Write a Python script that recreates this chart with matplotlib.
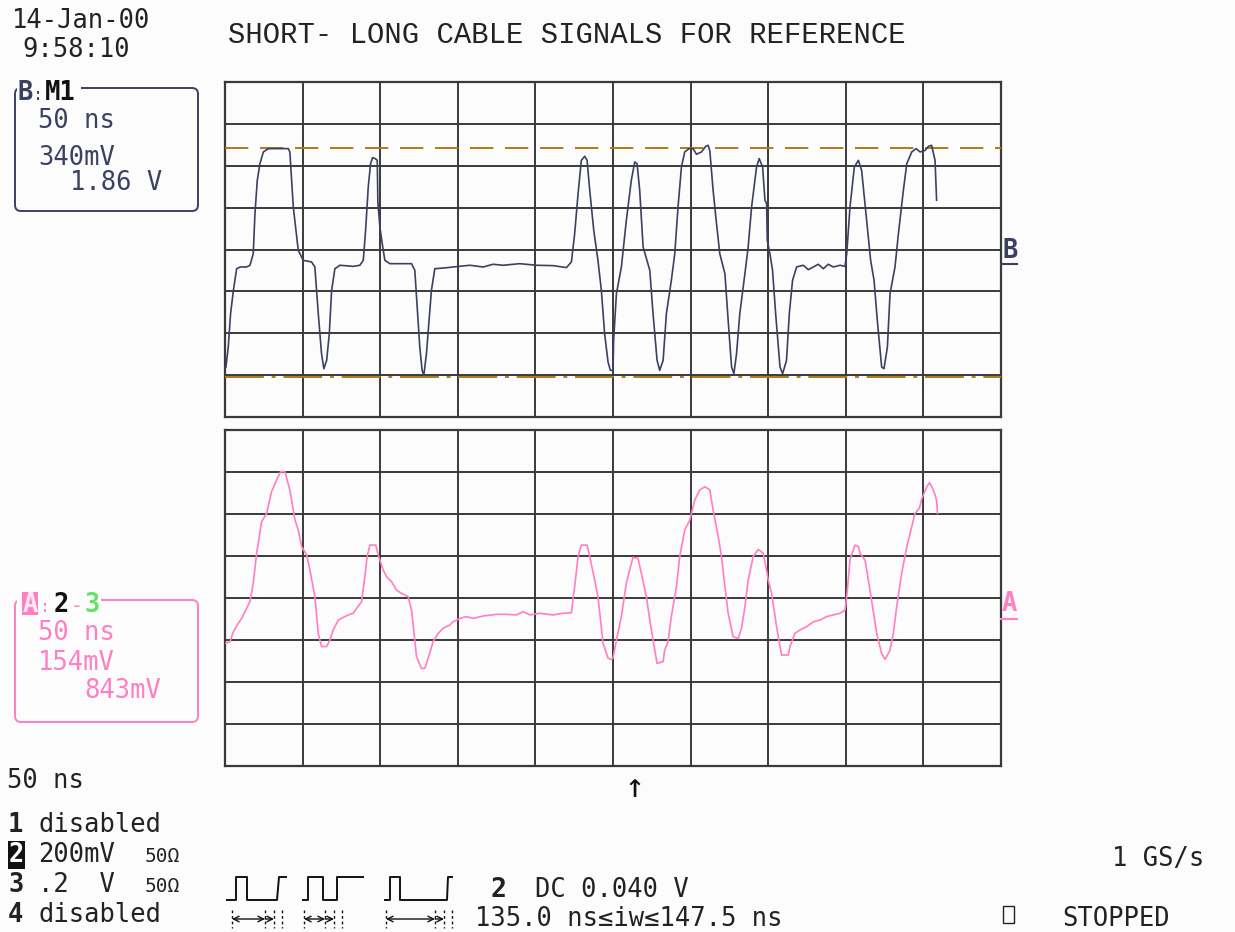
import numpy as np
import matplotlib.pyplot as plt
from matplotlib.patches import FancyBboxPatch, Rectangle

# time base and vertical scales (from the scope readout)
ns_div = 50
b_mv_div = 340
a_mv_div = 154

# trace B (M1): time in ns, amplitude in mV about screen centre
t_b = [0.6, 2.1, 3.6, 5.4, 7.5, 9.7, 13.9, 16.1, 18.2, 19.3, 20.8, 22.5, 24.7, 27.9,
       40.8, 41.8, 42.9, 44.0, 47.2, 50.4, 55.8, 57.9, 60.1, 62.2, 63.7, 65.5, 67.2,
       68.7, 70.8, 74.0, 82.6, 86.9, 89.1, 90.6, 92.3, 93.8, 95.1, 96.8, 98.1, 98.5,
       99.8, 101.3, 103.0, 106.2, 112.7, 120.2, 122.3, 123.8, 125.5, 127.0, 128.1,
       129.8, 131.5, 133.0, 135.2, 142.7, 147.0, 157.7, 166.3, 172.7, 179.2, 189.9,
       200.6, 211.4, 220.0, 223.2, 225.3, 227.5, 229.6, 231.8, 233.3, 235.0, 237.6,
       240.3, 242.5, 244.6, 246.8, 248.3, 250.0, 250.4, 252.2, 255.4, 258.6, 261.8,
       264.0, 265.5, 267.2, 269.4, 273.7, 275.8, 278.4, 280.1, 282.3, 284.4, 287.6,
       289.8, 291.9, 294.1, 296.2, 299.0, 301.6, 303.8, 307.0, 309.8, 311.3, 312.4,
       314.5, 316.7, 318.8, 322.1, 324.2, 326.4, 327.9, 329.6, 331.7, 335.0, 337.1,
       339.3, 342.5, 344.2, 346.4, 347.9, 349.0, 349.4, 351.1, 352.8, 354.8, 357.6,
       359.3, 361.8, 363.6, 365.7, 368.3, 372.6, 375.8, 379.1, 382.3, 385.5, 388.7,
       392.0, 396.3, 399.5, 400.6, 402.7, 405.5, 408.1, 410.2, 413.4, 416.0, 418.2,
       420.3, 423.1, 424.6, 426.8, 428.5, 431.7, 433.9, 437.1, 439.3, 442.5, 445.3,
       447.9, 451.1, 453.3, 455.3, 457.5, 458.5]
v_b = [-954, -792, -521, -332, -156, -142, -142, -128, -34, 291, 562, 697, 792, 819,
       819, 792, 562, 345, -7, -88, -101, -142, -521, -846, -968, -900, -683,
       -332, -156, -128, -137, -128, -88, 156, 508, 697, 746, 738, 724, 386,
       183, 48, -88, -115, -115, -115, -169, -467, -792, -981, -1022,
       -846, -575, -332, -156, -148, -142, -128, -142, -120, -128, -115,
       -128, -131, -147, -101, 129, 454, 724, 757, 724, 481, 156,
       -88, -332, -683, -913, -981, -981, -738, -359, -142, 237, 562,
       711, 697, 481, 21, -169, -521, -900, -981, -900, -521, -250,
       -34, 345, 670, 792, 819, 819, 773, 792, 838, 846, 800,
       481, 210, -34, -196, -575, -954, -1008, -846, -521, -196, 21,
       345, 670, 738, 670, 400, 372, 75, -34, -169, -521, -954,
       -1008, -900, -521, -250, -142, -128, -164, -142, -120, -156, -120,
       -142, -128, -137, -34, 345, 670, 724, 643, 237, -88, -250,
       -575, -954, -968, -792, -359, -142, 129, 481, 697, 792, 819,
       792, 805, 838, 846, 724, 400]

# trace A (2-3): time in ns, amplitude in mV about screen centre
t_a = [0.6, 3.2, 5.4, 8.6, 10.7, 12.9, 16.1, 18.2, 20.4, 23.6, 26.8, 30.0, 33.3, 35.8,
       38.6, 41.8, 45.1, 47.2, 49.4, 52.6, 54.7, 57.9, 60.1, 62.2, 65.5, 67.6, 69.7,
       73.0, 76.2, 79.4, 82.6, 84.8, 88.0, 90.1, 91.6, 93.4, 97.2, 98.7, 101.9, 104.1,
       107.3, 110.5, 113.7, 118.0, 120.2, 123.4, 126.6, 128.8, 130.9, 134.1, 137.3,
       140.6, 144.9, 147.0, 151.3, 155.6, 159.9, 166.3, 174.9, 181.3, 187.8, 192.1,
       196.4, 202.8, 211.4, 217.8, 223.2, 225.3, 227.5, 229.6, 233.3, 235.0, 238.2,
       240.3, 243.6, 246.8, 248.9, 250.0, 252.2, 255.4, 258.6, 261.8, 262.9, 266.1,
       268.3, 271.5, 273.7, 275.8, 278.4, 282.3, 283.3, 285.5, 287.6, 290.9, 293.0,
       296.2, 299.5, 302.7, 305.9, 309.2, 312.4, 314.5, 317.8, 319.9, 322.1, 324.2,
       327.4, 330.7, 332.8, 335.0, 337.1, 340.3, 343.6, 346.8, 348.9, 350.0, 352.2,
       355.4, 358.6, 362.9, 364.0, 367.2, 370.5, 374.8, 379.1, 383.4, 387.7, 392.0,
       396.3, 399.5, 400.6, 402.7, 405.9, 408.1, 409.2, 412.4, 415.6, 419.9, 423.1,
       425.3, 428.5, 430.6, 432.8, 436.0, 439.3, 442.5, 444.6, 447.4, 449.0, 452.2,
       453.9, 455.4, 457.6, 458.6, 459.1]
v_a = [-166, -160, -123, -93, -75, -50, -13, 54, 164, 280, 310, 390, 433, 463,
       463, 396, 286, 249, 188, 158, 103, 5, -130, -178, -178, -154, -117,
       -81, -71, -62, -56, -38, -13, 78, 152, 194, 194, 158, 103, 78,
       60, 29, 17, 5, -44, -215, -258, -258, -221, -160, -130,
       -111, -99, -87, -75, -68, -75, -66, -60, -60, -62, -50,
       -62, -56, -62, -56, -54, 42, 152, 194, 194, 152, 66,
       5, -166, -221, -225, -221, -154, -68, 54, 127, 149, 145,
       90, 5, -81, -154, -240, -233, -191, -160, -68, 42, 152,
       249, 286, 359, 396, 408, 396, 323, 225, 152, 42, -56,
       -142, -148, -111, -32, 66, 152, 178, 164, 103, 66, 17,
       -105, -209, -209, -178, -130, -117, -105, -87, -81, -68, -62,
       -56, -44, 5, 139, 194, 188, 164, 139, 29, -130, -203,
       -225, -191, -130, -32, 90, 188, 262, 310, 329, 365, 408,
       423, 408, 378, 353, 310]

# amplitude cursors on trace B (mV), difference reads 1.86 V
cursor_hi = 826
cursor_lo = -1034

W, H = 1235, 932
BG = '#fcfcfc'
GRID = '#3a3a3a'
NAVY = '#3c4062'
PINK = '#ff7fc2'
ORANGE = '#b07a12'
MONO = 'DejaVu Sans Mono'
FS = 18.4

fig = plt.figure(figsize=(W / 100, H / 100), dpi=100, facecolor=BG)


def scope_panel(top, bottom, mv_div):
    ax = fig.add_axes([225 / W, 1 - bottom / H, 776 / W, (bottom - top) / H])
    ax.set_facecolor(BG)
    ax.set_xlim(0, 10 * ns_div)
    ax.set_ylim(-4 * mv_div, 4 * mv_div)
    ax.set_xticks(np.arange(0, 10 * ns_div + 1, ns_div))
    ax.set_yticks(np.arange(-4, 5) * mv_div)
    ax.tick_params(length=0, labelbottom=False, labelleft=False)
    ax.grid(True, color=GRID, linewidth=1.4)
    for s in ax.spines.values():
        s.set_color(GRID)
        s.set_linewidth(1.6)
    return ax


# upper grid: trace B with its cursors
ax_b = scope_panel(82, 417, b_mv_div)
ax_b.axhline(cursor_hi, color=ORANGE, lw=1.4, ls=(0, (12, 6)), zorder=3)
ax_b.axhline(cursor_lo, color=ORANGE, lw=1.4, ls=(0, (20, 4, 2, 4)), zorder=3)
ax_b.plot(t_b, v_b, color=NAVY, lw=1.2, zorder=4)

# lower grid: trace A
ax_a = scope_panel(430, 766, a_mv_div)
ax_a.plot(t_a, v_a, color=PINK, lw=1.2, zorder=4)

# overlay in pixel coordinates for the readouts
ov = fig.add_axes([0, 0, 1, 1])
ov.set_xlim(0, W)
ov.set_ylim(H, 0)
ov.axis('off')
ov.patch.set_alpha(0)


def txt(x, y, s, size=FS, color='#222222', **kw):
    ov.text(x, y, s, fontsize=size, color=color, family=MONO, va='baseline', **kw)


txt(12, 28, '14-Jan-00')
txt(22, 57, '9:58:10')
ov.text(228, 43, 'SHORT- LONG CABLE SIGNALS FOR REFERENCE', fontsize=20.8,
        family='Liberation Mono', color='#222222', va='baseline')

# B:M1 box
ov.add_patch(FancyBboxPatch((15, 88), 183, 123, boxstyle='round,pad=0,rounding_size=6',
                            fc='none', ec=NAVY, lw=1.4))
ov.add_patch(Rectangle((17, 80), 64, 16, fc=BG, ec='none'))
txt(25, 100, 'B', color=NAVY, weight='bold', ha='center')
txt(38, 100, ':', size=12, color=NAVY, ha='center')
txt(45, 100, 'M1', color='#111111', weight='bold')
txt(38, 128, '50 ns', color=NAVY)
txt(38, 165, '340mV', color=NAVY)
txt(70, 190, '1.86 V', color=NAVY)

# A:2-3 box
ov.add_patch(FancyBboxPatch((15, 600), 183, 122, boxstyle='round,pad=0,rounding_size=6',
                            fc='none', ec=PINK, lw=1.4))
ov.add_patch(Rectangle((17, 592), 84, 16, fc=BG, ec='none'))
ov.add_patch(Rectangle((22, 592), 16, 23, fc=PINK, ec='none'))
txt(30, 612, 'A', color='#ffe6f3', weight='bold', ha='center')
txt(45, 612, ':', size=12, color=PINK, ha='center')
txt(61, 612, '2', color='#111111', weight='bold', ha='center')
txt(77, 612, '-', size=14, color=PINK, ha='center')
txt(92, 612, '3', color='#66e066', weight='bold', ha='center')
txt(38, 640, '50 ns', color=PINK)
txt(38, 670, '154mV', color=PINK)
txt(84, 698, '843mV', color=PINK)

# trace markers on the right
txt(1002, 258, 'B', color=NAVY, weight='bold')
ov.plot([1001, 1017], [264, 264], color=NAVY, lw=1.5)
txt(1002, 611, 'A', color=PINK, weight='bold')
ov.plot([1001, 1017], [619, 619], color=PINK, lw=1.5)

# trigger position arrow
ov.text(634, 797, '↑', fontsize=24, family=MONO, color='#111111', ha='center', va='baseline')

# channel list bottom left
txt(7, 788, '50 ns')
txt(8, 832, '1', weight='bold')
txt(38, 832, 'disabled')
txt(9, 862, '2', color='white', weight='bold',
    bbox=dict(fc='#111111', ec='none', pad=0.5))
txt(38, 862, '200mV')
txt(145, 862, '50Ω', size=14)
txt(8, 892, '3', weight='bold')
txt(38, 892, '.2  V')
txt(145, 892, '50Ω', size=14)
txt(8, 922, '4', weight='bold')
txt(38, 922, 'disabled')

# trigger pattern icons
pulses = [[227, 236, 247, 277, 279, 286],
          [303, 308, 323, 337, 337, 363],
          [385, 390, 400, 447, 448, 452]]
for x0, x1, x2, x3, x4, x5 in pulses:
    ov.plot([x0, x1, x1, x2, x2, x3, x4, x5], [900, 900, 877, 877, 900, 900, 877, 877],
            color='#111111', lw=1.4)
    for xt in (x1 - 4, x3 - 12, x3 - 3, x3 + 5):
        ov.plot([xt, xt], [910, 928], color='#111111', lw=1, ls=(0, (2, 2)))
    ov.annotate('', xy=(x1 - 4, 919), xytext=(x3 - 12, 919),
                arrowprops=dict(arrowstyle='<->', lw=1, color='#111111', shrinkA=0, shrinkB=0))
    ov.annotate('', xy=(x3 - 3, 919), xytext=(x3 - 12, 919),
                arrowprops=dict(arrowstyle='->', lw=1, color='#111111', shrinkA=0, shrinkB=0))

txt(490, 897, '2', weight='bold', size=19)
txt(535, 897, 'DC 0.040 V')
txt(475, 926, '135.0 ns≤iw≤147.5 ns')
txt(1112, 866, '1 GS/s')
ov.add_patch(Rectangle((1003, 906), 11, 17, fc='none', ec='#222222', lw=1))
txt(1062, 926, 'STOPPED')

plt.savefig('out.png', dpi=100, facecolor=BG)
